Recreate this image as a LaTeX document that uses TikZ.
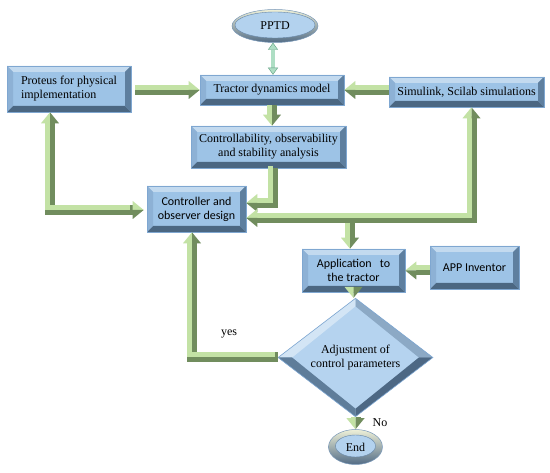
\documentclass[tikz,border=0pt]{standalone}
\usepackage{fontspec}
\setmainfont{Liberation Serif}
\newfontfamily\calfont{Carlito}
\usetikzlibrary{shapes.geometric,calc,arrows.meta}
\definecolor{face}{HTML}{9DC3E6}
\definecolor{eface}{HTML}{B3D2EE}
\definecolor{dface}{HTML}{B5D3EF}
\definecolor{bevT}{HTML}{C3DAEF}
\definecolor{bevL}{HTML}{8DB1D5}
\definecolor{bevR}{HTML}{5E7F9F}
\definecolor{bevB}{HTML}{4B6782}
\definecolor{boxline}{HTML}{7FA7D1}
\definecolor{dTL}{HTML}{D3E5F5}
\definecolor{dTR}{HTML}{8CA9C5}
\definecolor{dBL}{HTML}{5F7D9A}
\definecolor{dBR}{HTML}{4D6884}
\definecolor{lg}{HTML}{C3E2A5}
\definecolor{dg}{HTML}{718D5E}
\definecolor{mint}{HTML}{AEDEC4}
\definecolor{mintd}{HTML}{5E9E80}
\definecolor{ellT}{HTML}{EEF0D8}
\definecolor{ellM}{HTML}{9FB8D0}
\definecolor{ellB}{HTML}{526C86}
\newcommand\bevelrect[1]{%
 \coordinate (bNW) at (path picture bounding box.north west);
 \coordinate (bNE) at (path picture bounding box.north east);
 \coordinate (bSW) at (path picture bounding box.south west);
 \coordinate (bSE) at (path picture bounding box.south east);
 \fill[bevT] (bNW) -- (bNE) -- ($(bNE)+(-#1,#1)$) -- ($(bNW)+(#1,#1)$) -- cycle;
 \fill[bevB] (bSW) -- (bSE) -- ($(bSE)+(-#1,-#1)$) -- ($(bSW)+(#1,-#1)$) -- cycle;
 \fill[bevL] (bNW) -- (bSW) -- ($(bSW)+(#1,-#1)$) -- ($(bNW)+(#1,#1)$) -- cycle;
 \fill[bevR] (bNE) -- (bSE) -- ($(bSE)+(-#1,-#1)$) -- ($(bNE)+(-#1,#1)$) -- cycle;
}
\newcommand\beveldia[2]{%
 \coordinate (dN) at (path picture bounding box.north);
 \coordinate (dS) at (path picture bounding box.south);
 \coordinate (dW) at (path picture bounding box.west);
 \coordinate (dE) at (path picture bounding box.east);
 \fill[dTL] (dN) -- (dW) -- ($(dW)+(#1,0)$) -- ($(dN)+(0,#2)$) -- cycle;
 \fill[dTR] (dN) -- (dE) -- ($(dE)+(-#1,0)$) -- ($(dN)+(0,#2)$) -- cycle;
 \fill[dBL] (dS) -- (dW) -- ($(dW)+(#1,0)$) -- ($(dS)+(0,-#2)$) -- cycle;
 \fill[dBR] (dS) -- (dE) -- ($(dE)+(-#1,0)$) -- ($(dS)+(0,-#2)$) -- cycle;
}
\newcommand\bevelell[2]{%
 \shade[top color=ellT, middle color=ellM, bottom color=ellB] (path picture bounding box.south west) rectangle (path picture bounding box.north east);
 \fill[eface, draw=boxline!80!black, line width=0.4] ($(path picture bounding box.center)+(0,-1)$) ellipse [x radius=#1, y radius=#2];
}
\newcommand\shaft[2]{\draw[dg, line width=10, line join=miter] #2; \draw[lg, line width=5, line join=miter, transform canvas={shift={#1}}] #2;}
\tikzset{
 txt/.style={font=\fontsize{12}{14}\selectfont, text=black},
 bbox/.style={txt, draw=boxline, line width=0.6, fill=face, inner sep=0, align=center, path picture={\bevelrect{6}}},
 dbox/.style={txt, diamond, draw=boxline, line width=0.6, fill=dface, inner sep=1, align=center, path picture={\beveldia{14}{8}}},
 ebox/.style={txt, ellipse, draw=boxline!70!gray, line width=0.5, fill=eface, inner sep=0},
 lbl/.style={txt, inner sep=0},
 mtip/.tip={Triangle[width=10pt,length=7pt,fill=mint,color=mintd,line width=0.4pt]},
 hR/.pic={\fill[lg] (0,0)--(-11,-9)--(-11,0)--cycle; \fill[dg] (0,0)--(-11,9)--(-11,0)--cycle;},
 hL/.pic={\fill[lg] (0,0)--(11,-9)--(11,0)--cycle; \fill[dg] (0,0)--(11,9)--(11,0)--cycle;},
 hU/.pic={\fill[lg] (0,0)--(-9,11)--(0,11)--cycle; \fill[dg] (0,0)--(9,11)--(0,11)--cycle;},
 hD/.pic={\fill[lg] (0,0)--(-9,-11)--(0,-11)--cycle; \fill[dg] (0,0)--(9,-11)--(0,-11)--cycle;},
}
\begin{document}
\begin{tikzpicture}[x=1pt,y=-1pt]
\path[use as bounding box, fill=white] (0,0) rectangle (550,473);
% nodes
\node[ebox, minimum width=86, minimum height=33, path picture={\bevelell{40}{13}}] (pptd) at (275,26) {PPTD};
\node[bbox, minimum width=144, minimum height=30] (tdm) at (272,90) {Tractor dynamics model};
\node[bbox, minimum width=124, minimum height=46, align=left] (prot) at (69,89) {Proteus for physical\\implementation};
\node[bbox, minimum width=155, minimum height=30] (sim) at (466.5,92) {Simulink, Scilab simulations};
\node[bbox, minimum width=155, minimum height=42] (ctrb) at (268.5,147) {Controllability, observability\\and stability analysis};
\node[bbox, minimum width=99, minimum height=46, font=\calfont\fontsize{12}{14}\selectfont] (ctrl) at (196.5,209) {Controller and\\observer design};
\node[bbox, minimum width=103, minimum height=43, font=\calfont\fontsize{12}{14}\selectfont] (app) at (353.5,270.5) {Application\ \ \ to\\the tractor};
\node[bbox, minimum width=89, minimum height=43, font=\calfont\fontsize{12}{14}\selectfont] (appinv) at (474.5,267.5) {APP Inventor};
\node[dbox, minimum width=155, minimum height=85] (adj) at (355.5,357.5) {Adjustment of\\control parameters};
\node[ebox, minimum width=54, minimum height=35, path picture={\bevelell{20}{11}}] (end) at (355.5,447) {End};
\node[lbl] (yes) at (229,334) {yes};
\node[lbl] (no) at (380,423) {No};
% PPTD <-> tractor model
\draw[line width=3.5, draw=mint, {mtip}-{mtip}] ($(pptd.south)+(-2,0)$) -- ($(pptd.south |- tdm.north)+(-2,0)$);
% Proteus -> tractor model
\shaft{(0pt,2.5pt)}{($(prot.east |- tdm.west)+(4,0)$) -- ($(tdm.west)+(-11,0)$)}
\pic at (tdm.west) {hR};
% Simulink -> tractor model
\shaft{(0pt,2.5pt)}{(sim.west |- tdm.east) -- ($(tdm.east)+(11,0)$)}
\pic at (tdm.east) {hL};
% tractor model -> controllability
\shaft{(-2.5pt,0pt)}{(tdm.south) -- ($(tdm.south |- ctrb.north)+(0,-11)$)}
\pic at (tdm.south |- ctrb.north) {hD};
% controllability -> controller
\shaft{(-2.5pt,2.5pt)}{($(ctrb.south)+(4.5,0)$) |- ($(ctrl.east)+(11,-6)$)}
\pic at ($(ctrl.east)+(0,-6)$) {hL};
% bar: controller <- junction -> simulink, application
\coordinate (J) at ($(app.north |- ctrl.east)+(-3.5,9)$);
\shaft{(-2.5pt,2.5pt)}{($(ctrl.east)+(11,9)$) -| ($(sim.south)+(5,11)$)}
\pic at ($(ctrl.east)+(0,9)$) {hL};
\pic at ($(sim.south)+(5,0)$) {hU};
\shaft{(-2.5pt,0pt)}{($(J)+(0,5)$) -- ($(J |- app.north)+(0,-11)$)}
\pic at (J |- app.north) {hD};
% controller <-> proteus
\shaft{(-2.5pt,2.5pt)}{($(ctrl.west)+(-14,1)$) -| ($(prot.south)+(-19,11)$)}
\pic at ($(ctrl.west)+(-3,1)$) {hR};
\pic at ($(prot.south)+(-19,0)$) {hU};
% yes: adjustment -> controller
\shaft{(-2.5pt,2.5pt)}{(adj.west) -| ($(ctrl.south)+(-4.5,11)$)}
\pic at ($(ctrl.south)+(-4.5,0)$) {hU};
% application -> adjustment
\shaft{(-2.5pt,0pt)}{(app.south) -- ($(app.south |- adj.north)+(0,-11)$)}
\pic at (app.south |- adj.north) {hD};
% APP inventor -> application
\shaft{(0pt,2.5pt)}{(appinv.west |- app.east) -- ($(app.east)+(11,0)$)}
\pic at (app.east) {hL};
% adjustment -> end
\shaft{(-2.5pt,0pt)}{(adj.south) -- ($(adj.south |- end.north)+(0,-11)$)}
\pic at (adj.south |- end.north) {hD};
\end{tikzpicture}
\end{document}
